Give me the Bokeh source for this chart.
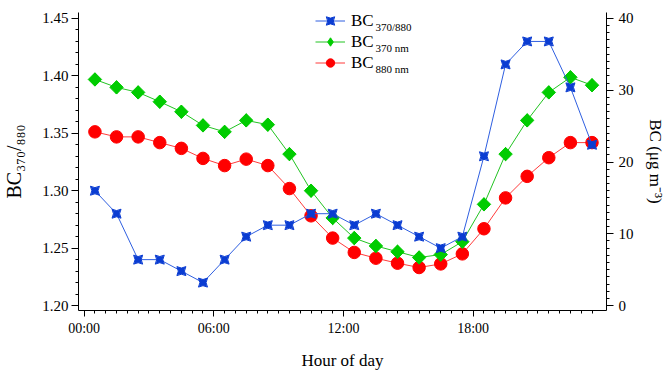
import numpy as np
from bokeh.plotting import figure
from bokeh.models import (Range1d, LinearAxis, FixedTicker, Legend, LegendItem,
                          Label, NumeralTickFormatter)
from bokeh.embed import file_html
from bokeh.resources import INLINE

# ---- data ----
hours = [0.5, 1.5, 2.5, 3.5, 4.5, 5.5, 6.5, 7.5, 8.5, 9.5, 10.5, 11.5,
         12.5, 13.5, 14.5, 15.5, 16.5, 17.5, 18.5, 19.5, 20.5, 21.5, 22.5, 23.5]
bc_ratio = [1.30, 1.28, 1.24, 1.24, 1.23, 1.22, 1.24, 1.26, 1.27, 1.27, 1.28, 1.28,
            1.27, 1.28, 1.27, 1.26, 1.25, 1.26, 1.33, 1.41, 1.43, 1.43, 1.39, 1.34]
bc370 = [31.5, 30.4, 29.7, 28.4, 27.0, 25.1, 24.2, 25.8, 25.2, 21.1, 16.0, 12.2,
         9.4, 8.3, 7.5, 6.7, 7.1, 8.9, 14.1, 21.1, 25.8, 29.7, 31.8, 30.7]
bc880 = [24.2, 23.5, 23.5, 22.7, 21.9, 20.5, 19.5, 20.4, 19.5, 16.3, 12.5, 9.4,
         7.4, 6.6, 5.9, 5.3, 5.8, 7.2, 10.7, 15.0, 18.0, 20.6, 22.7, 22.7]
x_ticks = [0, 6, 12, 18]
x_tick_labels = ["00:00", "06:00", "12:00", "18:00"]
left_ticks = [1.20, 1.25, 1.30, 1.35, 1.40, 1.45]
right_ticks = [0, 10, 20, 30, 40]

FONT = "Liberation Serif"

p = figure(width=667, height=372,
           min_border_left=78, min_border_right=60, min_border_top=12, min_border_bottom=59,
           x_range=Range1d(-0.26, 24.17), y_range=Range1d(1.1957, 1.4552),
           output_backend="svg", toolbar_location=None)
p.extra_y_ranges = {"bc": Range1d(-0.69, 40.83)}
p.grid.visible = False
p.outline_line_color = None
p.background_fill_color = "white"
p.border_fill_color = "white"

# axes
p.xaxis.ticker = FixedTicker(ticks=x_ticks,
                             minor_ticks=[float(v) for v in np.arange(0, 24, 0.5)])
p.xaxis.major_label_overrides = dict(zip(x_ticks, x_tick_labels))
p.yaxis.ticker = FixedTicker(ticks=left_ticks,
                             minor_ticks=[round(float(v), 3) for v in np.arange(1.20, 1.4501, 0.01)])
p.yaxis.formatter = NumeralTickFormatter(format="0.00")

raxis = LinearAxis(y_range_name="bc",
                   ticker=FixedTicker(ticks=right_ticks,
                                      minor_ticks=[float(v) for v in range(0, 41)]))
p.add_layout(raxis, "right")

for ax in [p.xaxis[0], p.yaxis[0], raxis]:
    ax.axis_line_color = "black"
    ax.major_tick_line_color = "black"
    ax.minor_tick_line_color = "black"
    ax.major_tick_in = 0
    ax.minor_tick_in = 0
    ax.major_tick_out = 7
    ax.minor_tick_out = 3
    ax.major_label_text_font = FONT
    ax.major_label_text_font_size = "15px"
    ax.major_label_text_color = "black"
    ax.axis_label_text_font = FONT
    ax.axis_label_text_font_style = "normal"
    ax.axis_label_text_color = "black"
p.xaxis.major_tick_out = 6
p.xaxis.major_label_text_font_size = "14px"
p.xaxis.major_label_standoff = 4
p.yaxis.major_label_standoff = 3
raxis.major_label_standoff = 5

p.xaxis.axis_label = "Hour of day"
p.xaxis.axis_label_text_font_size = "17px"
p.xaxis.axis_label_standoff = 12

p.yaxis.axis_label = "BC₃₇₀/₈₈₀"
p.yaxis.axis_label_text_font_size = "20px"
p.yaxis.axis_label_standoff = 14

raxis.axis_label = "BC (μg m⁻³)"
raxis.axis_label_text_font_size = "17px"
raxis.axis_label_standoff = 9

# series
r_l = p.line(hours, bc880, y_range_name="bc", line_color="#ff3b3b", line_width=1)
r_s = p.scatter(hours, bc880, y_range_name="bc", marker="circle", size=12.5,
                fill_color="#ff0000", line_color="#ff0000")
g_l = p.line(hours, bc370, y_range_name="bc", line_color="#22c322", line_width=1)
# diamond glyph (shown in legend), covered in the plot by the rotated squares
g_d = p.scatter(hours, bc370, y_range_name="bc", marker="diamond", size=13,
                fill_color="#00cc00", line_color="#00cc00")
g_s = p.scatter(hours, bc370, y_range_name="bc", marker="square", angle=np.pi / 4,
                size=9.5, fill_color="#00cc00", line_color="#00cc00")
b_l = p.line(hours, bc_ratio, line_color="#2f5fe0", line_width=1)
b_s = p.scatter(hours, bc_ratio, marker="square_pin", size=9,
                fill_color="#0a3cd2", line_color="#0a3cd2")

legend = Legend(items=[LegendItem(label="BC", renderers=[b_l, b_s]),
                       LegendItem(label="BC", renderers=[g_l, g_d]),
                       LegendItem(label="BC", renderers=[r_l, r_s])],
                location=(237, 237), orientation="vertical",
                glyph_width=30, glyph_height=21, label_height=21, spacing=0,
                padding=0, margin=0, label_standoff=6,
                label_text_font=FONT, label_text_font_size="17px",
                label_text_color="black",
                border_line_alpha=0, background_fill_alpha=0)
p.add_layout(legend)

subs = ["370/880", "370 nm", "880 nm"]
sub_y = [284, 263, 242]
for s, yy in zip(subs, sub_y):
    p.add_layout(Label(x=297, y=yy, x_units="screen", y_units="screen", text=s,
                       text_font=FONT, text_font_size="11px", text_color="black",
                       text_align="left", text_baseline="middle"))

open("out.html", "w").write(file_html(p, INLINE))
